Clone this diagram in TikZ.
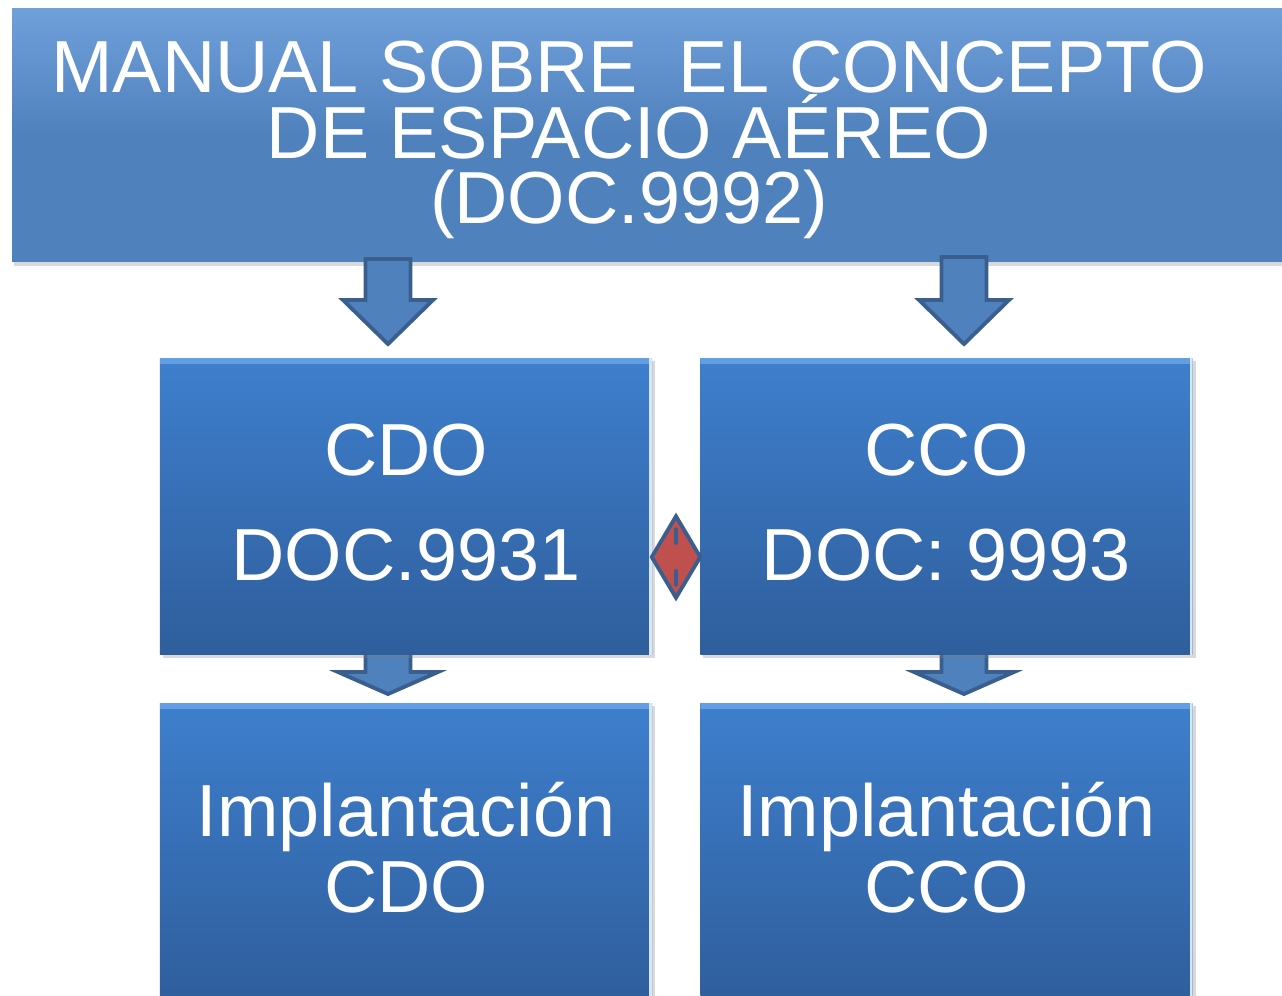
\documentclass[tikz,border=0pt]{standalone}
\usepackage{fontspec}
\setmainfont{Liberation Sans}
\usetikzlibrary{shapes.geometric,shadows,calc}

\begin{document}
\begin{tikzpicture}[x=0.02cm,y=-0.02cm]
  % colors
  \definecolor{kTitle}{RGB}{79,129,189}
  \definecolor{kTitleTop}{RGB}{112,160,218}
  \definecolor{kBoxTop}{RGB}{62,127,205}
  \definecolor{kBoxBot}{RGB}{47,94,156}
  \definecolor{kBevel}{RGB}{98,158,228}
  \definecolor{kEdge}{RGB}{58,95,142}
  \definecolor{kRed}{RGB}{192,80,77}
  % styles
  \tikzset{
    bevel/.style={path picture={
      \fill[#1] (path picture bounding box.north west) rectangle ([yshift=-0.11cm]path picture bounding box.north east);
      \fill[white!75!kBevel] ([xshift=-0.06cm]path picture bounding box.north east) rectangle (path picture bounding box.south east);}},
    titlebox/.style={rectangle,inner sep=0pt,minimum width=25.6cm,minimum height=5.08cm,
      top color=kTitleTop,bottom color=kTitle,middle color=kTitle,bevel=kTitleTop,
      drop shadow={shadow xshift=0.03cm,shadow yshift=-0.08cm,opacity=0.3}},
    box/.style={rectangle,inner sep=0pt,minimum width=9.85cm,minimum height=5.94cm,
      top color=kBoxTop,bottom color=kBoxBot,bevel=kBevel,text=white,align=center,
      font=\fontsize{42}{43}\selectfont,text depth=5pt,
      drop shadow={shadow xshift=0.06cm,shadow yshift=-0.06cm,opacity=0.3}},
    titletext/.style={text=white,align=center,inner sep=0pt,font=\fontsize{42}{37.4}\selectfont},
    blockarrow/.style={draw=kEdge,fill=kTitle,line width=2.2pt,line join=miter},
    link/.style={diamond,inner sep=0pt,minimum width=1.0cm,minimum height=1.66cm,
      fill=kRed,draw=kEdge,line width=2.2pt},
    notch/.style={draw=kEdge,line width=2.2pt,line cap=round}
  }
  \useasboundingbox (0,0) rectangle (1282,995);
  % small arrows behind the boxes
  \foreach \x in {388,964}
    \draw[blockarrow] (\x-22.5,650) -- (\x+22.5,650) -- (\x+22.5,672) -- (\x+50,672) -- (\x,694) -- (\x-50,672) -- (\x-22.5,672) -- cycle;
  % boxes
  \node[titlebox] (title) at (652,135) {};
  \node[titletext] (head) at (629,140) {MANUAL SOBRE~~EL CONCEPTO\\DE ESPACIO AÉREO\\(DOC.9992)};
  \node[box] (cdo) at (406,506.5) {CDO\\[17pt]DOC.9931};
  \node[box] (cco) at (946.5,506.5) {CCO\\[17pt]DOC: 9993};
  \node[box] (impcdo) at (406,851.5) {Implantación\\CDO};
  \node[box] (impcco) at (946.5,851.5) {Implantación\\CCO};
  % big arrows
  \foreach \x/\y in {388/259,964/257}
    \draw[blockarrow] (\x-22.5,\y) -- (\x+22.5,\y) -- (\x+22.5,300) -- (\x+45,300) -- (\x,344) -- (\x-45,300) -- (\x-22.5,300) -- cycle;
  % link between CDO and CCO
  \node[link] (link) at (676,557) {};
  \draw[notch] ($(link.north)!0.36!(link.center)$) -- ($(link.north)!0.68!(link.center)$);
  \draw[notch] ($(link.south)!0.36!(link.center)$) -- ($(link.south)!0.68!(link.center)$);
\end{tikzpicture}
\end{document}
